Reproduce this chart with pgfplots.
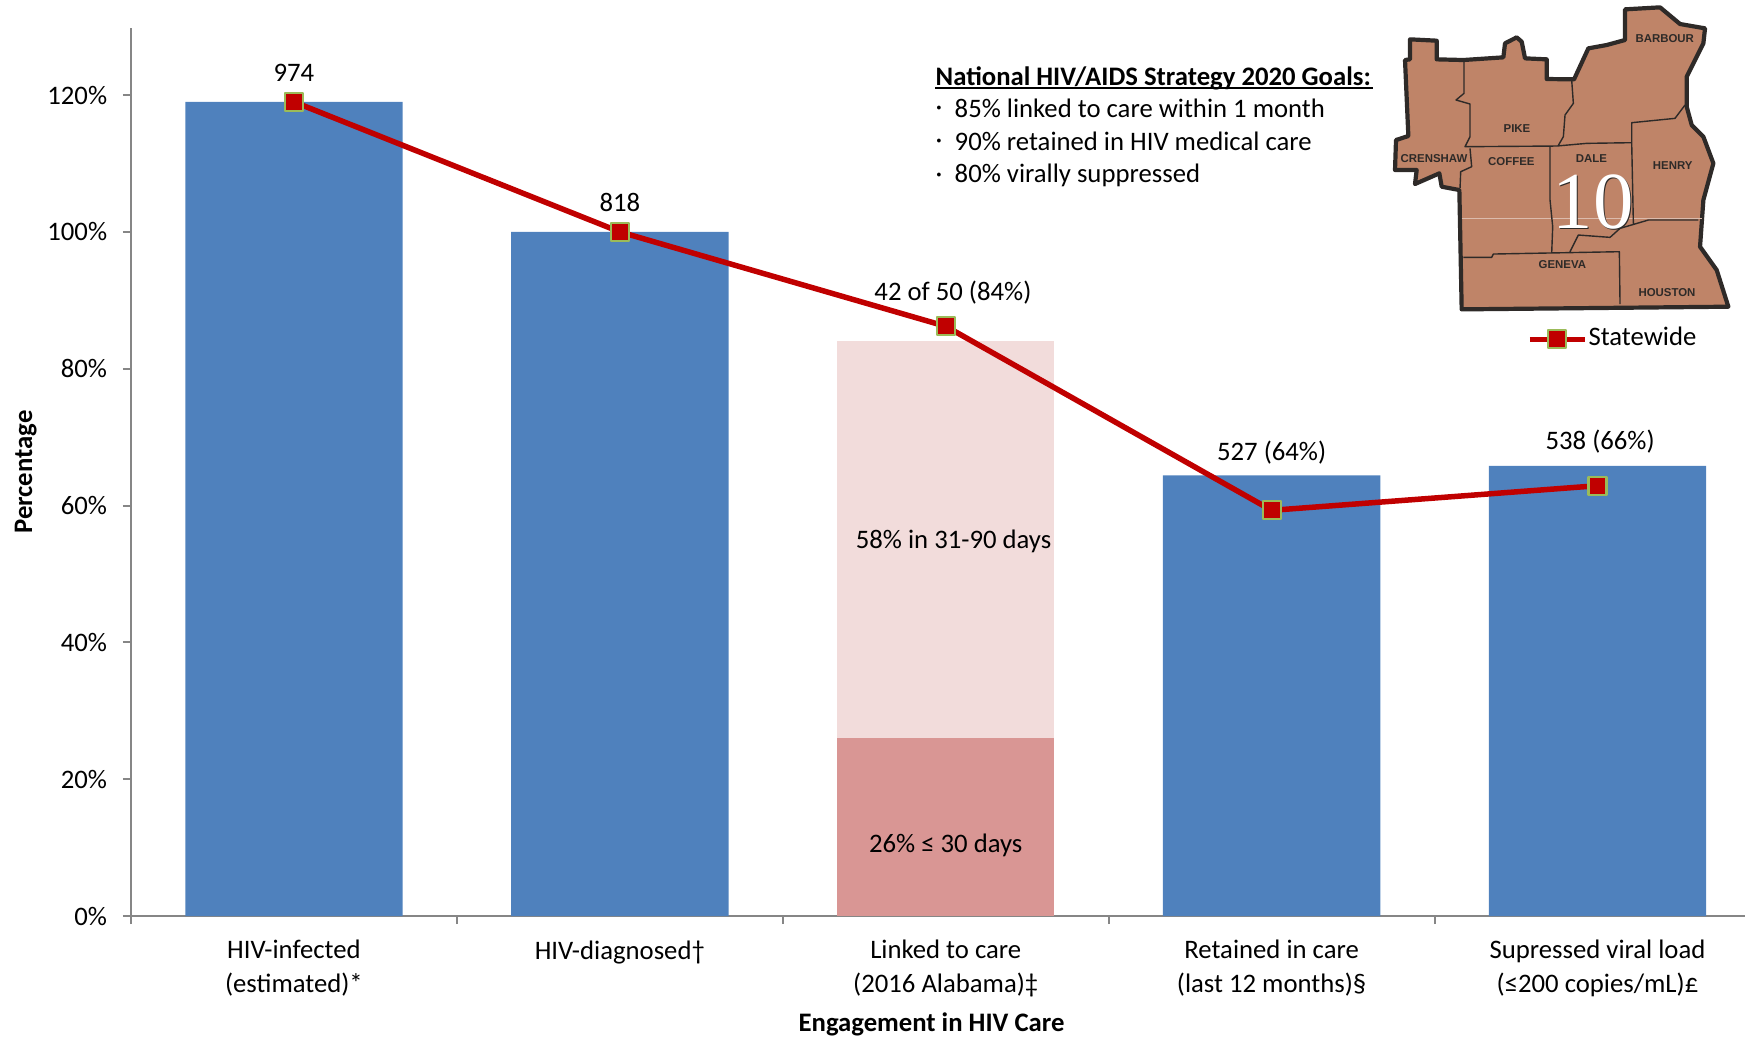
\documentclass[border=0pt]{standalone}
\usepackage{pgfplots}
\pgfplotsset{compat=1.18}
\usepackage{fontspec}
\setmainfont{Carlito}
\newfontfamily\mapfont{Liberation Sans}
\newfontfamily\numfont{Liberation Serif}
\definecolor{barblue}{HTML}{4F81BD}
\definecolor{pinklight}{HTML}{F2DCDB}
\definecolor{pinkdark}{HTML}{D99694}
\definecolor{trend}{HTML}{C00000}
\definecolor{markedge}{HTML}{9BBB59}
\definecolor{axisgrey}{HTML}{868686}
\definecolor{mapfill}{HTML}{BF8468}
\definecolor{mapline}{HTML}{2E2A28}
\newcommand{\chartfont}{\fontsize{7.6}{9.4}\selectfont}
\begin{document}
\begin{tikzpicture}[x=0.1mm,y=-0.1mm]
\path[use as bounding box] (0,0) rectangle (1745,1037);
\begin{axis}[
  at={(13.1mm,-91.6mm)}, anchor=south west,
  scale only axis, width=161.4mm, height=88.8mm,
  xmin=-0.5, xmax=4.4525, ymin=0, ymax=129.8,
  axis lines=left, axis line style={axisgrey,line width=0.2mm,-},
  clip=false,
  font=\chartfont,
  ytick={0,20,...,120},
  yticklabel={\pgfmathprintnumber{\tick}\%},
  /pgf/number format/assume math mode=true,
  xtick={0,1,2,3,4},
  xticklabels={{HIV-infected\\(estimated)*},{HIV-diagnosed†},{Linked to care\\(2016 Alabama)‡},{Retained in care\\(last 12 months)§},{Supressed viral load\\(≤200 copies/mL)£}},
  x tick label style={align=center,anchor=north,yshift=-0.4mm},
  minor xtick={-0.5,0.5,1.5,2.5,3.5},
  major x tick style={draw=none},
  tick style={axisgrey,line width=0.2mm},
  major tick length=0.8mm, minor tick length=0.8mm,
  tick align=outside,
  y tick label style={xshift=-0.35mm},
  xlabel={\textbf{Engagement in HIV Care}},
  xlabel style={at={(axis description cs:0.496,-0.1215)},anchor=center},
  ylabel={\textbf{Percentage}},
  ylabel style={at={(axis description cs:-0.0652,0.5)},anchor=center},
  legend style={draw=none,fill=none,at={(axis description cs:0.8645,0.6495)},anchor=west,inner sep=0pt,font=\chartfont,
    legend cell align=left},
  legend image code/.code={\draw[mark repeat=2,mark phase=2,#1] plot coordinates {(0mm,0mm)(2.75mm,0mm)(5.5mm,0mm)};},
]
% columns: blue bars, the linked-to-care total, then its first-month share
\addplot[ybar,bar shift=0pt,bar width=0.667,fill=barblue,draw=none,forget plot]
  coordinates {(0,119)(1,100)(3,64.4)(4,65.8)};
\addplot[ybar,bar shift=0pt,bar width=0.667,fill=pinklight,draw=none,forget plot]
  coordinates {(2,84)};
\addplot[ybar,bar shift=0pt,bar width=0.667,fill=pinkdark,draw=none,forget plot]
  coordinates {(2,26)};
% statewide comparison line
\addplot[sharp plot,trend,line width=0.55mm,line join=round,mark=square*,
  mark size=0.9mm,mark options={fill=trend,draw=markedge,line width=0.22mm,solid}]
  coordinates {(0,119)(1,100)(2,86.2)(3,59.3)(4,62.9)};
\addlegendentry{\hspace{-0.6mm}Statewide}
% value labels
\node at (axis cs:0,123.3) {974};
\node at (axis cs:1,104.3) {818};
\node at (axis cs:2.022,91.2) {42 of 50 (84\%)};
\node at (axis cs:3,67.8) {527 (64\%)};
\node at (axis cs:4.008,69.4) {538 (66\%)};
\node at (axis cs:2.024,54.7) {58\% in 31-90 days};
\node at (axis cs:2,10.3) {26\% ≤ 30 days};
\end{axis}

% goals box
\begin{scope}[font=\chartfont]
\node[anchor=west,inner sep=0pt] at (935,78) {\textbf{National HIV/AIDS Strategy 2020 Goals:}};
\draw[black,line width=0.16mm] (935,88)--(1373,88);
\foreach \yy/\txt in {108/85\% linked to care within 1 month,141/90\% retained in HIV medical care,175/80\% virally suppressed}{
  \node[anchor=center,inner sep=0pt] at (939,\yy+3) {·};
  \node[anchor=west,inner sep=0pt] at (954,\yy) {\txt};
}
\end{scope}

% public health area map
\begin{scope}[shift={(1370,0)},x=0.0333333mm,y=-0.0333333mm]
\fill[mapfill,draw=mapline,line width=0.42mm,line join=round]
  (120,118)--(200,122)--(200,178)--(280,180)--(400,172)--(405,130)--(440,112)--(455,125)--(465,175)--(530,178)--(530,237)--(612,238)--(655,145)--(710,135)--(765,120)--(765,28)--(870,22)--(930,72)--(1005,85)--(1000,130)--(950,230)--(950,320)--(965,375)--(1000,410)--(1030,490)--(1000,600)--(990,740)--(1040,810)--(1075,920)--(275,928)--(268,570)--(215,560)--(208,520)--(135,552)--(140,510)--(75,510)--(78,420)--(115,408)--(105,180)--(120,178)--cycle;
\draw[white!45!mapfill,line width=0.08mm] (275,655)--(995,655);
\draw[mapline,line width=0.14mm,line join=round]
  (282,180)--(282,280)--(258,300)--(300,312)--(300,410)--(285,440)--(560,438)--(650,430)--(785,428)
  (300,445)--(305,500)--(272,515)--(270,565)
  (605,240)--(610,310)--(585,345)--(580,410)--(565,436)
  (785,428)--(785,368)--(915,355)--(945,315)
  (785,428)--(790,670)
  (540,440)--(540,600)--(548,680)--(545,760)
  (280,772)--(365,772)--(370,762)--(748,755)--(750,912)
  (600,755)--(625,705)--(720,712)--(750,685)--(835,660)--(985,660);
\begin{scope}[font=\mapfont\bfseries\fontsize{3.25}{4}\selectfont,text=mapline]
\node at (884,116) {BARBOUR};
\node at (441,386) {PIKE};
\node at (192,477) {CRENSHAW};
\node at (424,485) {COFFEE};
\node at (664,476) {DALE};
\node at (908,496) {HENRY};
\node at (577,794) {GENEVA};
\node at (891,877) {HOUSTON};
\end{scope}
\node[font=\numfont\fontsize{23}{24}\selectfont,text=mapline] at (672,608) {10};
\node[font=\numfont\fontsize{23}{24}\selectfont,text=white] at (669,606) {10};
\end{scope}
\end{tikzpicture}
\end{document}
